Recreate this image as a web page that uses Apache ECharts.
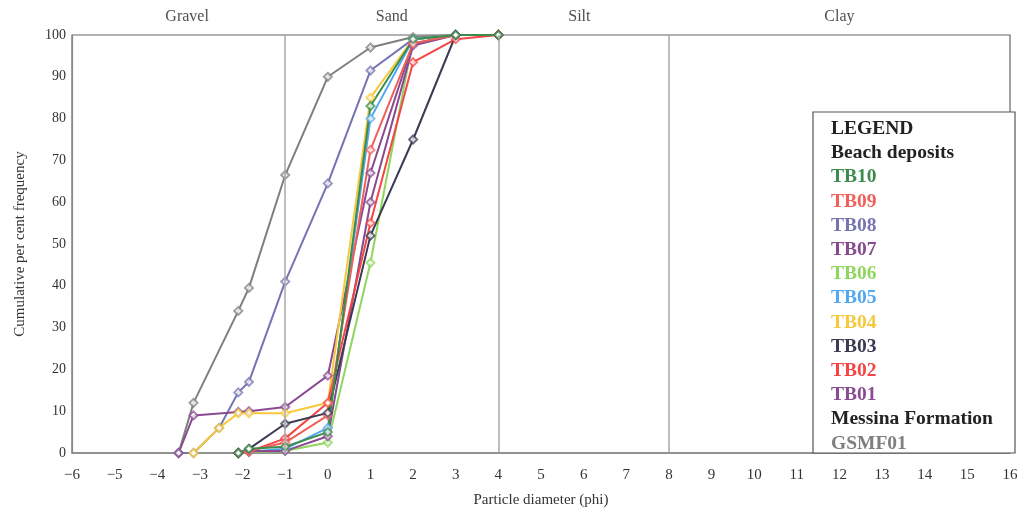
<!DOCTYPE html>
<html><head><meta charset="utf-8">
<script src="https://cdn.jsdelivr.net/npm/echarts@6/dist/echarts.min.js"></script>
<style>html,body{margin:0;padding:0;background:#fff}#c{width:1031px;height:513px}</style>
</head><body><div id="c"></div>
<script>
// Data: [phi, cumulative %]
const seriesNames = ['TB10','TB09','TB08','TB07','TB06','TB05','TB04','TB03','TB02','TB01','GSMF01'];
const TB10 = [[-2.1,0],[-1.85,1],[-1,1.5],[0,5],[1,83],[2,99],[3,100],[4,100]];
const TB09 = [[-2.1,0],[-1.85,0.5],[-1,2.5],[0,9],[1,72.5],[2,98],[3,100],[4,100]];
const TB08 = [[-3.5,0],[-3.15,0],[-2.55,6],[-2.1,14.5],[-1.85,17],[-1,41],[0,64.5],[1,91.5],[2,99],[3,100],[4,100]];
const TB07 = [[-2.1,0],[-1.85,0.5],[-1,0.5],[0,4],[1,60],[2,97.5],[3,100],[4,100]];
const TB06 = [[-2.1,0],[-1.85,0.3],[-1,0.5],[0,2.5],[1,45.5],[2,99],[3,100],[4,100]];
const TB05 = [[-2.1,0],[-1.85,0.3],[-1,1],[0,6],[1,80],[2,99],[3,100],[4,100]];
const TB04 = [[-3.15,0],[-2.55,6],[-2.1,9.5],[-1.85,9.5],[-1,9.5],[0,12],[1,85],[2,99],[3,100],[4,100]];
const TB03 = [[-2.1,0],[-1.85,1],[-1,7],[0,9.6],[1,52],[2,75],[3,100],[4,100]];
const TB02 = [[-2.1,0],[-1.85,0.3],[-1,3.5],[0,12],[1,55],[2,93.5],[3,99],[4,100]];
const TB01 = [[-3.5,0],[-3.15,9],[-2.1,9.8],[-1.85,10],[-1,11],[0,18.5],[1,67],[2,98],[3,100],[4,100]];
const GSMF01 = [[-3.5,0],[-3.15,12],[-2.1,34],[-1.85,39.5],[-1,66.5],[0,90],[1,97],[2,99.5],[3,100],[4,100]];
const boundaries = [-1, 4, 8];
const zoneLabels = ['Gravel','Sand','Silt','Clay'];
const zoneCenters = [-3.3, 1.5, 5.9, 12];

const dataMap = {TB10,TB09,TB08,TB07,TB06,TB05,TB04,TB03,TB02,TB01,GSMF01};
const colors = {TB10:'#3b8c4c',TB09:'#f0605a',TB08:'#7474b2',TB07:'#874a8c',TB06:'#8ed65e',TB05:'#52a8f0',TB04:'#f6c93c',TB03:'#3a3a52',TB02:'#f54545',TB01:'#8a4a92',GSMF01:'#7f7f7f'};
const drawOrder = ['GSMF01','TB08','TB01','TB04','TB06','TB05','TB07','TB02','TB09','TB03','TB10'];
const font = '"Liberation Serif","DejaVu Serif",serif';

const chart = echarts.init(document.getElementById('c'));
const series = drawOrder.map(n => ({
  name: n, type: 'line', data: dataMap[n], symbol: 'emptyDiamond', symbolSize: 8,
  lineStyle: {color: colors[n], width: 2}, itemStyle: {color: colors[n], borderWidth: 1, opacity: 0.75},
  z: 3
}));
series.push({
  type: 'line', data: [], silent: true,
  markLine: {silent: true, symbol: 'none', label: {show: false},
    lineStyle: {color: '#a8a8a8', width: 1.5, type: 'solid'},
    data: boundaries.map(b => ({xAxis: b}))}
});
series.push({
  type: 'scatter', data: zoneCenters.map((c,i) => [c, 100]), symbolSize: 0, silent: true,
  label: {show: true, position: 'top', distance: 10, formatter: p => zoneLabels[p.dataIndex], fontFamily: font, fontSize: 16, color: '#222'}
});
const legendItems = [
  ['LEGEND','#222'],['Beach deposits','#222'],
  ['TB10',colors.TB10],['TB09',colors.TB09],['TB08',colors.TB08],['TB07',colors.TB07],['TB06',colors.TB06],
  ['TB05',colors.TB05],['TB04',colors.TB04],['TB03',colors.TB03],['TB02',colors.TB02],['TB01',colors.TB01],
  ['Messina Formation','#222'],['GSMF01',colors.GSMF01]
];
const graphics = [{type:'rect', shape:{x:813, y:112, width:202, height:341}, style:{fill:'#fff', stroke:'#555', lineWidth:1.2}, z:10}];
legendItems.forEach((it,i) => graphics.push({type:'text', x:831, y:129 + i*24.2, z:11,
  style:{text: it[0], fill: it[1], font: 'bold 19.5px ' + font, textVerticalAlign:'middle'}}));

chart.setOption({
  animation: false,
  grid: {left: 72, right: 21, top: 35, bottom: 60, show: true, borderColor: '#666', borderWidth: 1.2},
  xAxis: {type: 'value', min: -6, max: 16, interval: 1,
    axisLine: {onZero: false, lineStyle: {color: '#888', width: 1.5}}, axisTick: {show: false}, splitLine: {show: false},
    axisLabel: {fontFamily: font, fontSize: 15, color: '#333', margin: 15, formatter: v => String(v).replace('-', '\u2212')},
    name: 'Particle diameter (phi)', nameLocation: 'middle', nameGap: 40,
    nameTextStyle: {fontFamily: font, fontSize: 15, color: '#333'}},
  yAxis: {type: 'value', min: 0, max: 100, interval: 10,
    axisLine: {show: true, onZero: false, lineStyle: {color: '#888', width: 1.2}}, axisTick: {show: false}, splitLine: {show: false},
    axisLabel: {fontFamily: font, fontSize: 14, color: '#333', margin: 6},
    name: 'Cumulative per cent frequency', nameLocation: 'middle', nameGap: 44,
    nameTextStyle: {fontFamily: font, fontSize: 15, color: '#333'}},
  series: series,
  graphic: graphics
});
</script></body></html>
